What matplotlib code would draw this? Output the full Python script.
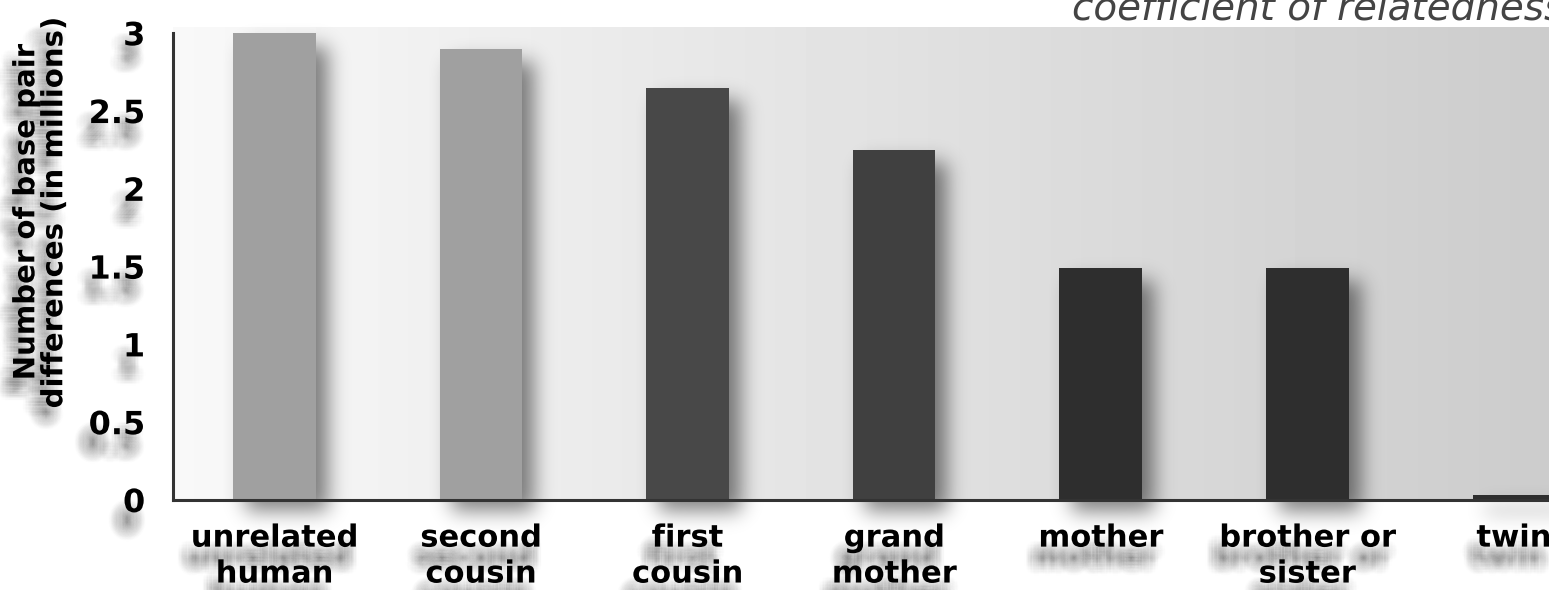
import math
import numpy as np
import matplotlib
matplotlib.use("Agg")
import matplotlib.pyplot as plt
import matplotlib.patheffects as pe

# ---- Data ----
relatives = ["unrelated\nhuman", "second\ncousin", "first\ncousin", "grand\nmother",
             "mother", "brother or\nsister", "twin"]
differences = [3.0, 2.9, 2.65, 2.25, 1.49, 1.49, 0.03]  # millions of base pairs
bar_colors = ["#a0a0a0", "#a0a0a0", "#484848", "#404040", "#2e2e2e", "#2e2e2e", "#2e2e2e"]
y_ticks = [0, 0.5, 1, 1.5, 2, 2.5, 3]
y_tick_labels = ["0", "0.5", "1", "1.5", "2", "2.5", "3"]

plt.rcParams['font.family'] = ['DejaVu Sans']

erf = np.vectorize(math.erf)

# fake blurred drop shadow for text: many faint offset copies
def blur_shadow(dx, dy, spread=7, alpha=0.0045):
    effects = []
    for ox in range(-spread, spread + 1):
        for oy in range(-spread, spread + 1):
            if ox * ox + oy * oy > spread * spread:
                continue
            effects.append(pe.SimplePatchShadow(offset=(dx + ox, dy + oy),
                                                shadow_rgbFace="0.3", alpha=alpha))
    effects.append(pe.Normal())
    return effects

fig = plt.figure(figsize=(15.49, 5.9), dpi=100)
ax = fig.add_axes([0.1117, 0.1525, 0.8883, 0.8017])

x = np.arange(len(relatives))
xmin, xmax = -0.49, 6.17
ymax = 3.04

# background gradient (light on the left, grey on the right)
grad = np.linspace(0.975, 0.80, 256).reshape(1, -1)
ax.imshow(grad, extent=[xmin, xmax, 0, ymax], aspect="auto", cmap="gray",
          vmin=0, vmax=1, zorder=0, interpolation="bicubic")

width = 0.40
# blurred drop shadows: offset rectangle smoothed with a gaussian
px_x = 206.6   # pixels per x unit
px_y = 155.7   # pixels per y unit
sx, sy = 10 / px_x, 10 / px_y
ox, oy = 12 / px_x, 12 / px_y
for xi, h in zip(x, differences):
    x0, x1 = xi - width / 2 - 0.05, xi + width / 2 + 0.3
    y0, y1 = -0.3, h + 0.15
    gx = np.linspace(x0, x1, 160)
    gy = np.linspace(y0, y1, 160)
    L, R = xi - width / 2 + ox, xi + width / 2 + ox
    B, T = 0 - oy, h - oy
    fx = 0.5 * (erf((gx - L) / (sx * 1.414)) - erf((gx - R) / (sx * 1.414)))
    fy = 0.5 * (erf((gy - B) / (sy * 1.414)) - erf((gy - T) / (sy * 1.414)))
    alpha = 0.5 * np.outer(fy, fx)
    rgba = np.zeros((len(gy), len(gx), 4))
    rgba[..., 3] = alpha
    im = ax.imshow(rgba, extent=[x0, x1, y0, y1], origin="lower", aspect="auto",
                   zorder=1, interpolation="bilinear")
    im.set_clip_on(False)

ax.bar(x, differences, width=width, color=bar_colors, zorder=3, linewidth=0)

ax.set_xlim(xmin, xmax)
ax.set_ylim(0, ymax)

# axes styling
for side in ["top", "right"]:
    ax.spines[side].set_visible(False)
ax.spines["left"].set_bounds(0, 3)
for side in ["left", "bottom"]:
    ax.spines[side].set_color("#333333")
    ax.spines[side].set_linewidth(2.2)
    ax.spines[side].set_zorder(4)

ax.set_yticks(y_ticks)
ax.set_yticklabels(y_tick_labels, fontsize=23, fontweight="bold")
ax.set_xticks(x)
ax.set_xticklabels(relatives, fontsize=22, fontweight="bold", linespacing=1.3)
ax.tick_params(axis="y", length=0, pad=20)
ax.tick_params(axis="x", length=0, pad=17)
for lab in ax.get_yticklabels() + ax.get_xticklabels():
    lab.set_path_effects(blur_shadow(-5, -14))

fig.text(0.026, 0.64, "Number of base pair\ndifferences (in millions)", rotation=90,
         ha="center", va="center", fontsize=21, fontweight="bold", linespacing=1.0,
         path_effects=blur_shadow(-6, -10))

fig.text(1072 / 1549, 1 - 20 / 590, "coefficient of relatedness", ha="left",
         va="baseline", fontsize=28, style="italic", color="#444444")

fig.savefig("out.png", dpi=100)
